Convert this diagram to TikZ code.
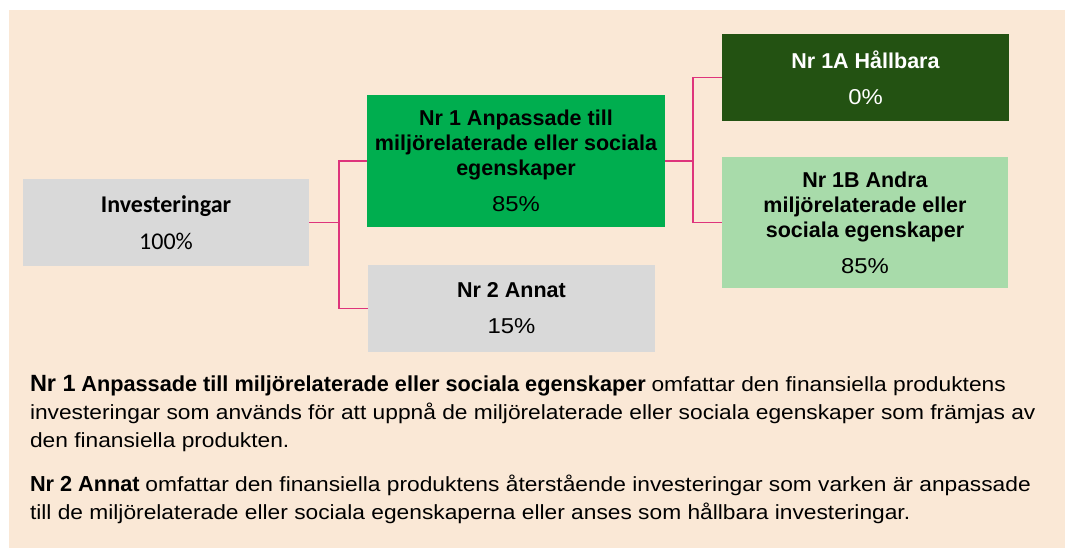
\documentclass[tikz,border=0pt]{standalone}
\usepackage{fontspec}
\setmainfont{Liberation Sans}
\newfontfamily\widefont[FakeStretch=1.11]{Liberation Sans}
\newfontfamily\calfont{Carlito}
\definecolor{beigebg}{RGB}{250,232,214}
\definecolor{greybox}{RGB}{217,217,217}
\definecolor{greenbox}{RGB}{0,174,79}
\definecolor{darkgreenbox}{RGB}{35,82,18}
\definecolor{lightgreenbox}{RGB}{168,219,170}
\definecolor{pinkline}{RGB}{222,52,124}
\newcommand{\pctline}[1]{{\widefont\mdseries #1}}
\newcommand{\parabold}[1]{{\fontsize{21.7}{28}\selectfont\bfseries #1}}
\begin{document}
\begin{tikzpicture}[x=1pt,y=-1pt,
  box/.style={inner sep=0pt, outer sep=0pt, align=center,
    font=\fontsize{21.5}{25}\selectfont\bfseries},
  conn/.style={draw=pinkline, line width=1.8pt},
  para/.style={inner sep=0pt, outer sep=0pt, anchor=base west,
    font=\fontsize{20.5}{28}\selectfont}]
\useasboundingbox (0,0) rectangle (1067,549);
\fill[beigebg] (9,10) rectangle (1065,548);

\node[box, fill=greybox, minimum width=286pt, minimum height=87pt,
  font=\fontsize{24}{26}\selectfont\calfont\bfseries] (inv) at (166,222.5)
  {Investeringar\\[11pt]\mdseries 100\%};
\node[box, fill=greenbox, minimum width=298pt, minimum height=132pt] (nr1) at (516,161)
  {Nr 1 Anpassade till\\miljörelaterade eller sociala\\egenskaper\\[11pt]\pctline{85\%}};
\node[box, fill=greybox, minimum width=287pt, minimum height=87pt] (nr2) at (511.5,308.5)
  {Nr 2 Annat\\[11pt]\pctline{15\%}};
\node[box, fill=darkgreenbox, text=white, minimum width=287pt, minimum height=87pt] (a1) at (865.5,77.5)
  {Nr 1A Hållbara\\[11pt]\pctline{0\%}};
\node[box, fill=lightgreenbox, minimum width=286pt, minimum height=131pt] (b1) at (865,222.5)
  {Nr 1B Andra\\miljörelaterade eller\\sociala egenskaper\\[11pt]\pctline{85\%}};

\coordinate (j1) at (339,222.5);
\coordinate (j2) at (693,161);
\draw[conn] (inv.east) -- (j1);
\draw[conn] (j1) |- (nr1.west);
\draw[conn] (j1) |- (nr2.west);
\draw[conn] (nr1.east) -- (j2);
\draw[conn] (j2) |- (a1.west);
\draw[conn] (j2) |- (b1.west);

\node[para] (p1a) at (30,391) {{\fontsize{23.5}{28}\selectfont\bfseries Nr 1} \parabold{Anpassade till miljörelaterade eller sociala egenskaper} \widefont omfattar den finansiella produktens};
\node[para] (p1b) at (30,419) {\widefont investeringar som används för att uppnå de miljörelaterade eller sociala egenskaper som främjas av};
\node[para] (p1c) at (30,447) {\widefont den finansiella produkten.};
\node[para] (p2a) at (30,491) {\parabold{Nr 2 Annat} \widefont omfattar den finansiella produktens återstående investeringar som varken är anpassade};
\node[para] (p2b) at (30,519) {\widefont till de miljörelaterade eller sociala egenskaperna eller anses som hållbara investeringar.};
\end{tikzpicture}
\end{document}
